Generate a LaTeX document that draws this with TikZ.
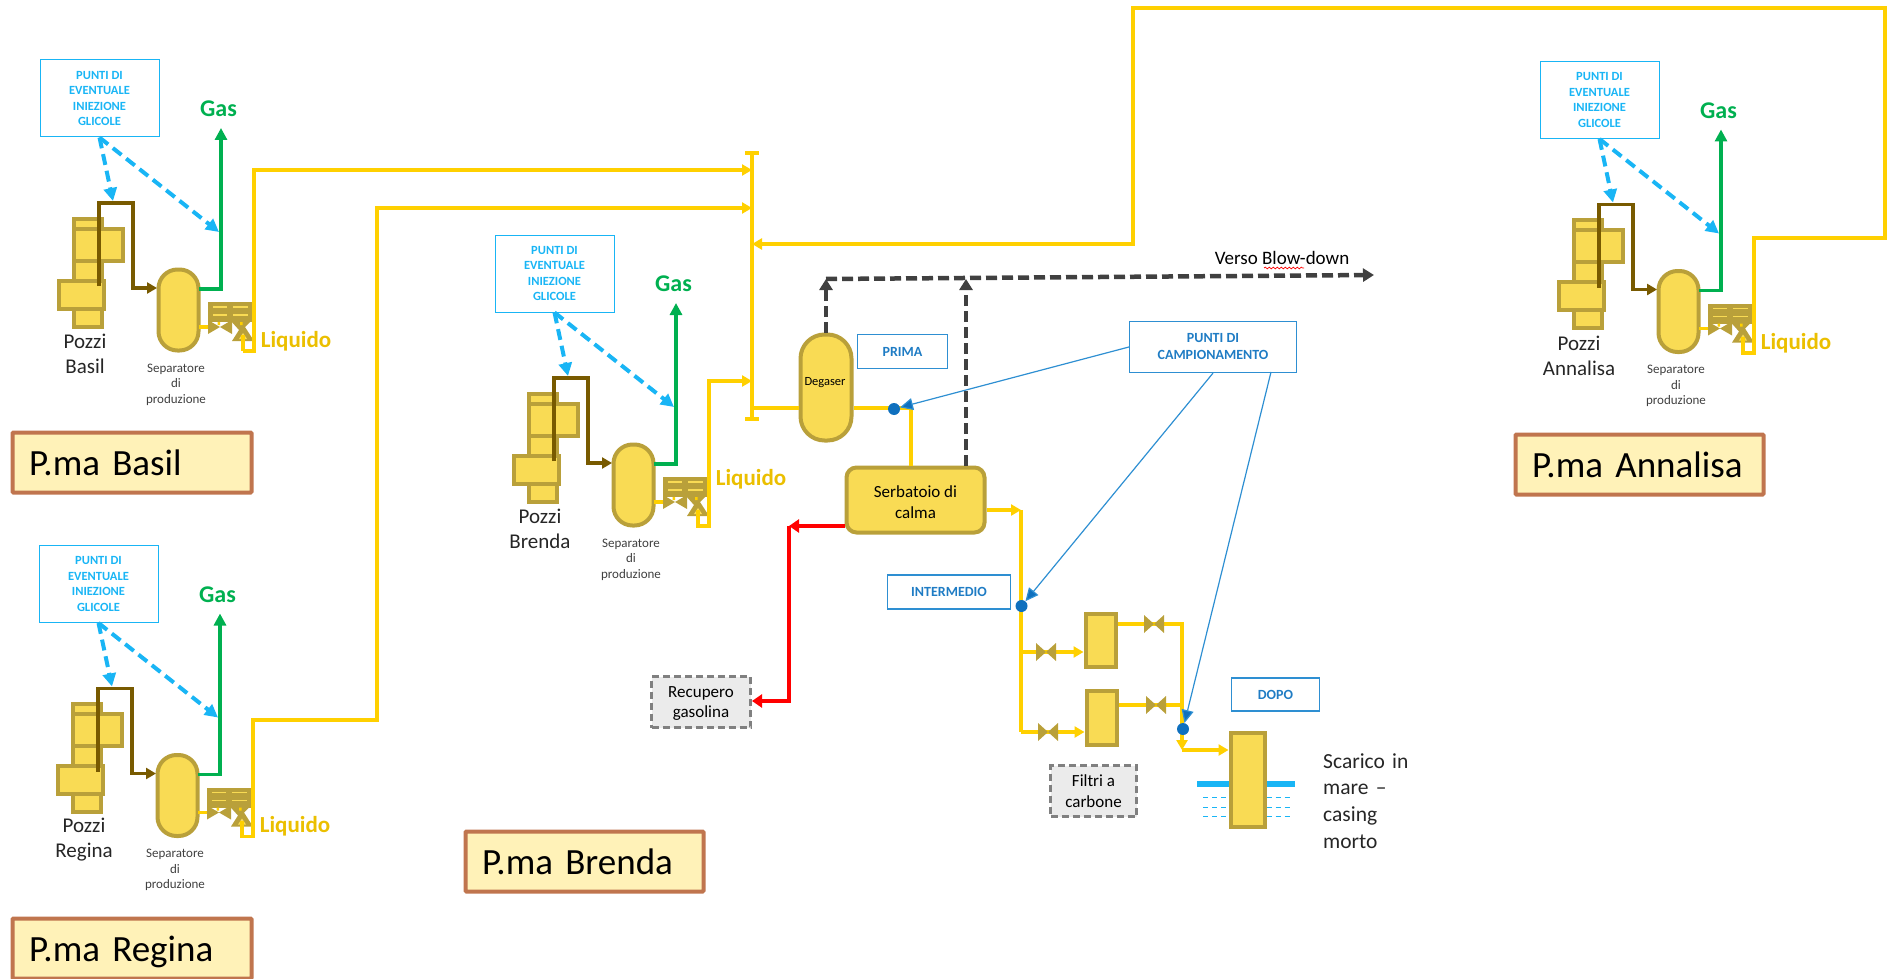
\documentclass[tikz,border=0pt]{standalone}
\usepackage{fontspec}
\setmainfont{Carlito}
\usetikzlibrary{arrows.meta,decorations.pathmorphing}
\definecolor{oilyellow}{HTML}{FFD000}
\definecolor{vesselfill}{HTML}{F9DB54}
\definecolor{vesseledge}{HTML}{B9A03A}
\definecolor{glycblue}{HTML}{19B5F5}
\definecolor{sampleblue}{HTML}{2E8FD2}
\definecolor{sampletext}{HTML}{1F7CC4}
\definecolor{dotblue}{HTML}{0F70BE}
\definecolor{plantfill}{HTML}{FFF2B8}
\definecolor{plantedge}{HTML}{C0754E}
\definecolor{gasgreen}{HTML}{00B050}
\definecolor{wellbrown}{HTML}{785A00}
\tikzset{
  vessel/.style={draw=vesseledge,fill=vesselfill,line width=4pt,inner sep=0pt},
  textbit/.style={inner sep=0pt,align=center,font=\fontsize{21}{25}\selectfont,text=black!85},
  tinybit/.style={inner sep=0pt,align=center,font=\fontsize{13}{15.5}\selectfont,text=black!75},
  glycbox/.style={draw=glycblue,line width=1pt,minimum width=119pt,minimum height=77pt,inner sep=0pt,align=center,text=glycblue,font=\fontsize{12.5}{15.5}\selectfont\bfseries},
  samplebox/.style={draw=sampleblue,line width=1.2pt,inner sep=0pt,align=center,text=sampletext,font=\fontsize{14}{17}\selectfont\bfseries},
  greybox/.style={draw=black!50,dash pattern=on 7pt off 4pt,fill=black!8,line width=3pt,inner sep=0pt,text depth=0pt,align=center,font=\fontsize{17}{20.5}\selectfont},
  plantbox/.style={draw=plantedge,fill=plantfill,line width=4pt,rounded corners=1pt,minimum height=60pt,inner sep=0pt,text depth=0pt,align=left,font=\fontsize{37}{40}\selectfont},
  gaslabel/.style={inner sep=0pt,font=\fontsize{24}{24}\selectfont\bfseries,text=gasgreen},
  liqlabel/.style={inner sep=0pt,font=\fontsize{23}{23}\selectfont\bfseries,text=oilyellow!92!black},
  liqline/.style={draw=oilyellow,line width=3.5pt,-{Triangle[length=10pt,width=11pt]}},
  liqplain/.style={draw=oilyellow,line width=3.5pt},
  gasline/.style={draw=gasgreen,color=gasgreen,line width=3.5pt,-{Triangle[length=12pt,width=12pt]}},
  wellline/.style={draw=wellbrown,color=wellbrown,line width=3.5pt,-{Triangle[length=10pt,width=11pt]}},
  glycline/.style={draw=glycblue,color=glycblue,line width=4pt,dash pattern=on 11pt off 6pt,-{Triangle[length=13pt,width=13pt]}},
  blowline/.style={draw=black!75,color=black!75,line width=4.5pt,dash pattern=on 11pt off 5pt,-{Triangle[length=11pt,width=13pt]}},
  redline/.style={draw=red,color=red,line width=4.5pt,-{Triangle[length=10pt,width=13pt]}},
  sampleline/.style={draw=sampleblue,line width=1.2pt,-{Triangle[length=13pt,width=12pt,fill=dotblue]}},
  sampledot/.style={circle,fill=dotblue,inner sep=0pt,minimum size=12pt},
  valveicon/.pic={\fill[vesseledge] (-10,-9)--(10,9)--(10,-9)--(-10,9)--cycle;}
}
\begin{document}
\begin{tikzpicture}[x=1pt,y=-1pt]
  \useasboundingbox (0,0) rectangle (1887,979);
  % the four production units
  \foreach \n/\dx/\dy/\px/\ly in {Basil/0/0/85/341.5,Regina/-1/485.5/85/340.5,Brenda/455/175/85/304,Annalisa/1500/1.5/79/341.5}{
  \begin{scope}[shift={(\dx,\dy)}]
    \node[vessel,minimum width=28pt,minimum height=108pt] (wella\n) at (87.5,272.5) {};
    \node[vessel,minimum width=49pt,minimum height=32pt] (wellb\n) at (98,244.5) {};
    \node[vessel,minimum width=45pt,minimum height=28pt] (wellc\n) at (81,294.5) {};
    \node[vessel,rounded corners=19pt,minimum width=40pt,minimum height=81pt] (sep\n) at (178.5,310) {};
    \node[textbit] (pozzi\n) at (\px,354) {Pozzi\\\n};
    \node[tinybit] (septext\n) at (176,384.5) {Separatore\\di\\produzione};
    \node[glycbox] (glyc\n) at (99.5,98.5) {PUNTI DI\\EVENTUALE\\INIEZIONE\\GLICOLE};
    \node[gaslabel] (gas\n) at (218.5,109) {Gas};
    \node[liqlabel] (liq\n) at (296,\ly) {Liquido};
    \coordinate (wellout\n) at (99,286);
    \coordinate (sepin\n) at (157,288);
    \coordinate (sepgas\n) at (199,289);
    \coordinate (gastip\n) at (221,128);
    \coordinate (glyca\n) at (113,201);
    \coordinate (glycb\n) at (219,232);
    \coordinate (sepliq\n) at (199,327);
    \coordinate (valvin\n) at (210,327);
    \draw[wellline] (wellout\n) -- (99,203) -- (133,203) -- (133,288) -- (sepin\n);
    \draw[gasline] (sepgas\n) -| (gastip\n);
    \draw[glycline] (glyc\n.south) -- (glyca\n);
    \draw[glycline] (glyc\n.south) -- (glycb\n);
    \draw[liqplain] (sepliq\n) -- (valvin\n);
    % actuated valve
    \fill[vesseledge] (208,302) rectangle (253,322);
    \draw[vesselfill,line width=1.5pt] (213,307)--(227,307) (213,315)--(227,315) (233,307)--(248,307) (233,315)--(248,315);
    \fill[vesseledge] (208,320)--(232,334)--(232,320)--(208,334)--cycle;
    \fill[vesseledge] (230,320)--(252,320)--(245,327)--(254,341)--(232,341)--(239,330)--cycle;
    \fill[oilyellow] (217.5,322) rectangle (220,325) (240,322) rectangle (242.5,325);
    \fill[vesselfill] (243,333)--(247,339)--(239,339)--cycle;
  \end{scope}
  }
  % plant labels
  \node[plantbox,minimum width=239pt,text width=206pt] (plantBasil) at (132,462.5) {P.ma Basil};
  \node[plantbox,minimum width=239pt,text width=206pt] (plantRegina) at (132,948.5) {P.ma Regina};
  \node[plantbox,minimum width=238pt,text width=205pt] (plantBrenda) at (584.5,861.5) {P.ma Brenda};
  \node[plantbox,minimum width=248pt,text width=215pt] (plantAnnalisa) at (1639.5,464.5) {P.ma Annalisa};
  % main equipment
  \node[vessel,rounded corners=24pt,minimum width=51pt,minimum height=106pt] (degaser) at (826,387.5) {};
  \node[inner sep=0pt,font=\fontsize{12.5}{14}\selectfont] (degtext) at (825,382.5) {Degaser};
  \node[vessel,rounded corners=10pt,minimum width=138pt,minimum height=65pt] (serb) at (915.5,500) {};
  \node[inner sep=0pt,align=center,font=\fontsize{17}{21}\selectfont] (serbtext) at (915.5,502.5) {Serbatoio di\\calma};
  \node[vessel,minimum width=30pt,minimum height=53pt] (filta) at (1100.5,640) {};
  \node[vessel,minimum width=30pt,minimum height=54pt] (filtb) at (1101.5,717.5) {};
  \node[vessel,minimum width=34pt,minimum height=94pt] (casing) at (1247.5,779.5) {};
  \node[greybox,minimum width=99pt,minimum height=51pt] (recupero) at (701,702) {Recupero\\gasolina};
  \node[greybox,minimum width=86pt,minimum height=51pt] (filtri) at (1093.5,791) {Filtri a\\carbone};
  \node[samplebox,minimum width=90pt,minimum height=34pt] (prima) at (902.5,351.5) {PRIMA};
  \node[samplebox,minimum width=123pt,minimum height=34pt] (intermedio) at (949,592) {INTERMEDIO};
  \node[samplebox,minimum width=88pt,minimum height=33pt] (dopo) at (1275.5,694.5) {DOPO};
  \node[samplebox,minimum width=167pt,minimum height=51pt] (campione) at (1213,347) {PUNTI DI\\CAMPIONAMENTO};
  \node[inner sep=0pt,font=\fontsize{19}{20}\selectfont] (verso) at (1282,257.5) {Verso Blow-down};
  \node[textbit,anchor=west,align=left,text width=100pt,font=\fontsize{21.5}{26.7}\selectfont] (scarico) at (1323,801) {Scarico in\\mare --\\casing\\morto};
  \draw[red,line width=.7pt,decorate,decoration={snake,amplitude=.9pt,segment length=4pt}] (1264,268)--(1304,268);
  % manifold
  \coordinate (mantop) at (752,153);
  \coordinate (manbot) at (752,419);
  \draw[liqplain] (mantop) -- (manbot);
  \draw[liqplain] (745,153)--(759,153) (745,419)--(759,419);
  \coordinate (inBasil) at (752,170);
  \coordinate (inRegina) at (752,208);
  \coordinate (inBrenda) at (752,381);
  \coordinate (inAnnalisa) at (752,244);
  \coordinate (degin) at (752,408);
  % risers
  \draw[liqplain] (243,335)--(243,351);
  \draw[liqline] (243,351) -- (254,351) -- (254,170) -- (inBasil);
  \draw[liqline] (242,821) -- (242,836.5) -- (253,836.5) -- (253,720) -- (377,720) -- (377,208) -- (inRegina);
  \draw[liqline] (698,510) -- (698,526) -- (709,526) -- (709,381) -- (inBrenda);
  \draw[liqline] (1743,337) -- (1743,353) -- (1754,353) -- (1754,238) -- (1885,238) -- (1885,8) -- (1133,8) -- (1133,244) -- (inAnnalisa);
  % flow through the deck
  \coordinate (degout) at (826,333);
  \coordinate (serbtop) at (966,466);
  \coordinate (blowend) at (1374,275);
  \coordinate (blowbend) at (966,279);
  \draw[blowline] (degout) -- (826,279);
  \draw[blowline] (serbtop) -- (blowbend);
  \draw[blowline] (826,279) -- (blowend);
  \draw[liqplain] (degin) -- (degaser.west |- degin);
  \draw[liqplain] (degaser.east |- degin) -| (serb.north -| 911,0);
  \coordinate (serbred) at (serb.west |- 0,526);
  \coordinate (redbend) at (789,526);
  \draw[redline] (serbred) -- (redbend);
  \draw[redline] (redbend) -- (789,701) -- (recupero.east |- 0,701);
  \coordinate (serbout) at (serb.east |- 0,510);
  \coordinate (branch) at (1021,510);
  \draw[liqline] (serbout) -- (branch);
  \draw[liqplain] (branch) -- (1021,732);
  \draw[liqline] (1021,652) -- (filta.west |- 0,652);
  \draw[liqline] (1021,732) -- (filtb.west |- 0,732);
  \draw[liqplain] (filta.east |- 0,624) -- (1182,624) -- (1182,705);
  \draw[liqplain] (filtb.east |- 0,705) -- (1182,705);
  \coordinate (collect) at (1182,705);
  \coordinate (collectend) at (1182,750);
  \draw[liqline] (collect) -- (collectend);
  \draw[liqline] (collectend) -- (casing.west |- 0,750);
  \pic at (1046,652) {valveicon};
  \pic at (1048,732) {valveicon};
  \pic at (1154,624) {valveicon};
  \pic at (1156,705) {valveicon};
  % sampling points
  \node[sampledot] (dota) at (894,409) {};
  \node[sampledot] (dotb) at (1021.5,606) {};
  \node[sampledot] (dotc) at (1183,729) {};
  \draw[sampleline] (campione.west) -- (dota);
  \draw[sampleline] (campione.south) -- (dotb);
  \draw[sampleline] (1271,372) -- (dotc);
  % sea level
  \draw[glycblue,line width=5.5pt] (1197,784)--(casing.west |- 0,784) (casing.east |- 0,784)--(1295,784);
  \foreach \y in {797,807,816}
    \draw[glycblue,line width=.8pt,dash pattern=on 5pt off 4pt] (1203,\y)--(casing.west |- 0,\y) (casing.east |- 0,\y)--(1293,\y);
\end{tikzpicture}
\end{document}
